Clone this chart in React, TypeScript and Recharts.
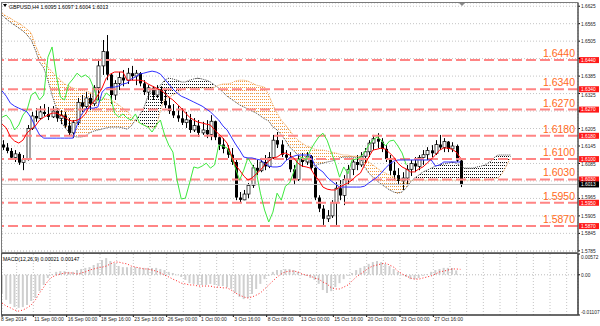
import React from "react";
import {
  Area,
  Bar,
  CartesianGrid,
  ComposedChart,
  Line,
  ReferenceLine,
  XAxis,
  YAxis,
} from "recharts";

// GBPUSD H4 candles, one slot per pair of bars
const opens = [
  1.615, 1.614, 1.6128, 1.6105, 1.6118, 1.6088, 1.6098, 1.6205, 1.6248, 1.624,
  1.6262, 1.6255, 1.6245, 1.6265, 1.624, 1.625, 1.6215, 1.619, 1.6225, 1.6295,
  1.628, 1.631, 1.629, 1.6345, 1.642, 1.647, 1.639, 1.632, 1.636, 1.638,
  1.637, 1.6395, 1.6385, 1.6395, 1.636, 1.633, 1.6345, 1.632, 1.634, 1.63,
  1.6285, 1.6265, 1.625, 1.624, 1.6225, 1.6235, 1.62, 1.6215, 1.619, 1.62,
  1.6185, 1.623, 1.6175, 1.615, 1.6135, 1.6115, 1.609, 1.5968, 1.596, 1.598,
  1.601, 1.607, 1.606, 1.609, 1.6075, 1.6105, 1.6165, 1.615, 1.6115, 1.6105,
  1.6065, 1.603, 1.61, 1.609, 1.611, 1.607, 1.5968, 1.593, 1.5895, 1.5905,
  1.595, 1.6, 1.5975, 1.603, 1.6065, 1.609, 1.608, 1.611, 1.6125, 1.6155,
  1.617, 1.616, 1.6135, 1.61, 1.606, 1.6045, 1.6025, 1.6035, 1.6065, 1.6085,
  1.6075, 1.6105, 1.6115, 1.613, 1.612, 1.615, 1.614, 1.616, 1.6135, 1.6145,
  1.6095,
];
const highs = [
  1.6165, 1.6155, 1.6138, 1.6131, 1.6124, 1.6114, 1.6217, 1.6262, 1.6275, 1.6282,
  1.6289, 1.6279, 1.6282, 1.6275, 1.6268, 1.6262, 1.6241, 1.6234, 1.631, 1.632,
  1.633, 1.6324, 1.6354, 1.644, 1.6509, 1.6526, 1.6395, 1.6371, 1.6399, 1.6406,
  1.6413, 1.642, 1.6406, 1.6399, 1.6371, 1.6354, 1.635, 1.6354, 1.635, 1.6337,
  1.631, 1.6289, 1.6282, 1.6275, 1.6262, 1.6255, 1.6241, 1.6234, 1.6228, 1.6234,
  1.6251, 1.6232, 1.6183, 1.6172, 1.6148, 1.6138, 1.6097, 1.5987, 1.5994, 1.6018,
  1.608, 1.6097, 1.6104, 1.6114, 1.6124, 1.6183, 1.6193, 1.6165, 1.6131, 1.6124,
  1.608, 1.6114, 1.6121, 1.6124, 1.6114, 1.6072, 1.5976, 1.5942, 1.5925, 1.5959,
  1.6021, 1.6028, 1.6045, 1.608, 1.6104, 1.6114, 1.6124, 1.6138, 1.6165, 1.6183,
  1.6189, 1.6172, 1.6148, 1.6114, 1.609, 1.6069, 1.6055, 1.608, 1.6097, 1.6107,
  1.6114, 1.6131, 1.6141, 1.6148, 1.6165, 1.6183, 1.6172, 1.6162, 1.6158, 1.615,
  1.6097,
];
const lows = [
  1.6131, 1.612, 1.6097, 1.609, 1.608, 1.6062, 1.6095, 1.62, 1.6228, 1.6234,
  1.6248, 1.6234, 1.6241, 1.6228, 1.622, 1.6207, 1.6179, 1.6172, 1.6217, 1.6262,
  1.6268, 1.6268, 1.6282, 1.6303, 1.6389, 1.6371, 1.6289, 1.6303, 1.6337, 1.635,
  1.6358, 1.6371, 1.6354, 1.635, 1.632, 1.6303, 1.6303, 1.631, 1.6289, 1.6275,
  1.6255, 1.6241, 1.6228, 1.6217, 1.6207, 1.619, 1.6193, 1.6176, 1.6183, 1.6172,
  1.6165, 1.6165, 1.6131, 1.612, 1.6104, 1.608, 1.5959, 1.5952, 1.5959, 1.5966,
  1.6001, 1.6045, 1.6055, 1.6062, 1.6069, 1.61, 1.6138, 1.6107, 1.6097, 1.6055,
  1.6011, 1.6025, 1.6073, 1.608, 1.6062, 1.5959, 1.5918, 1.5874, 1.5884, 1.5898,
  1.5874, 1.5959, 1.5942, 1.6011, 1.6045, 1.6062, 1.6073, 1.6086, 1.6107, 1.6131,
  1.6138, 1.6124, 1.609, 1.6045, 1.6028, 1.6011, 1.5994, 1.6011, 1.6042, 1.6055,
  1.6062, 1.608, 1.6097, 1.6107, 1.6114, 1.6131, 1.6124, 1.6124, 1.6124, 1.609,
  1.6004,
];
const closes = [
  1.614, 1.6128, 1.6105, 1.6118, 1.6088, 1.6098, 1.6205, 1.6248, 1.624, 1.6262,
  1.6255, 1.6245, 1.6265, 1.624, 1.625, 1.6215, 1.619, 1.6225, 1.6295, 1.628,
  1.631, 1.629, 1.6345, 1.642, 1.647, 1.639, 1.632, 1.636, 1.638, 1.637,
  1.6395, 1.6385, 1.6395, 1.636, 1.633, 1.6345, 1.632, 1.634, 1.63, 1.6285,
  1.6265, 1.625, 1.624, 1.6225, 1.6235, 1.62, 1.6215, 1.619, 1.62, 1.6185,
  1.623, 1.6175, 1.615, 1.6135, 1.6115, 1.609, 1.5968, 1.596, 1.598, 1.601,
  1.607, 1.606, 1.609, 1.6075, 1.6105, 1.6165, 1.615, 1.6115, 1.6105, 1.6065,
  1.603, 1.61, 1.609, 1.611, 1.607, 1.5968, 1.593, 1.5895, 1.5905, 1.595,
  1.6, 1.5975, 1.603, 1.6065, 1.609, 1.608, 1.611, 1.6125, 1.6155, 1.617,
  1.616, 1.6135, 1.61, 1.606, 1.6045, 1.6025, 1.6035, 1.6065, 1.6085, 1.6075,
  1.6105, 1.6115, 1.613, 1.612, 1.615, 1.614, 1.616, 1.6135, 1.6145, 1.6095,
  1.6013,
];

// Ichimoku
const tenkan = [
  1.622, 1.6207, 1.6176, 1.6162, 1.6155, 1.6165, 1.619, 1.6203, 1.6214, 1.6234,
  1.6244, 1.6251, 1.6258, 1.6258, 1.6251, 1.6244, 1.6234, 1.623, 1.6234, 1.6241,
  1.6255, 1.6282, 1.6296, 1.632, 1.6344, 1.6378, 1.6392, 1.6399, 1.6399, 1.6399,
  1.6371, 1.6371, 1.6371, 1.6371, 1.6368, 1.6358, 1.6351, 1.6344, 1.6337, 1.6327,
  1.6313, 1.6303, 1.6289, 1.6275, 1.6258, 1.6244, 1.6234, 1.6227, 1.6224, 1.622,
  1.6217, 1.62, 1.6186, 1.6172, 1.6155, 1.6114, 1.608, 1.6062, 1.6042, 1.6028,
  1.6035, 1.6049, 1.6062, 1.608, 1.6093, 1.6104, 1.6107, 1.6117, 1.6121, 1.6114,
  1.6104, 1.6086, 1.6076, 1.6073, 1.6069, 1.6045, 1.6028, 1.6004, 1.5997, 1.5994,
  1.5994, 1.6004, 1.6011, 1.6018, 1.6028, 1.6042, 1.6052, 1.608, 1.6107, 1.6131,
  1.6134, 1.6138, 1.6134, 1.6121, 1.6107, 1.6086, 1.6073, 1.6066, 1.6056, 1.6056,
  1.6066, 1.6073, 1.6086, 1.61, 1.6114, 1.6131, 1.6138, 1.6138, 1.6134, 1.6124,
  1.6104,
];
const kijun = [
  1.6334, 1.6316, 1.6292, 1.6282, 1.6275, 1.6269, 1.6262, 1.6241, 1.621, 1.6183,
  1.6172, 1.6172, 1.6172, 1.6172, 1.6172, 1.6172, 1.6172, 1.6172, 1.6217, 1.6251,
  1.6272, 1.6275, 1.6275, 1.6279, 1.633, 1.6344, 1.6347, 1.6347, 1.6351, 1.6358,
  1.6361, 1.6375, 1.6382, 1.6392, 1.6395, 1.6399, 1.6402, 1.6399, 1.6392, 1.6375,
  1.6358, 1.6341, 1.6327, 1.6316, 1.631, 1.6303, 1.6296, 1.6289, 1.6282, 1.6272,
  1.6262, 1.6248, 1.6234, 1.6214, 1.62, 1.6176, 1.6152, 1.6131, 1.6107, 1.6104,
  1.6104, 1.61, 1.6097, 1.6086, 1.6076, 1.6073, 1.6073, 1.6076, 1.6093, 1.6104,
  1.611, 1.6114, 1.6114, 1.6114, 1.6114, 1.608, 1.6066, 1.6056, 1.6038, 1.6025,
  1.6014, 1.6004, 1.6004, 1.6004, 1.6004, 1.6004, 1.6004, 1.6007, 1.6018, 1.6028,
  1.6038, 1.6052, 1.6069, 1.6083, 1.6093, 1.6097, 1.6097, 1.6097, 1.6097, 1.6097,
  1.6097, 1.6097, 1.6097, 1.6097, 1.6076, 1.608, 1.609, 1.609, 1.609, 1.609,
  1.609,
];
const chikou = [
  1.6244, 1.6251, 1.6234, 1.62, 1.6217, 1.6251, 1.6269, 1.632, 1.633, 1.6303,
  1.632, 1.645, 1.6485, 1.6389, 1.6313, 1.6303, 1.6358, 1.6375, 1.6395, 1.6382,
  1.6389, 1.6378, 1.6344, 1.6299, 1.6303, 1.6327, 1.6316, 1.6258, 1.6244, 1.6255,
  1.6241, 1.6234, 1.6255, 1.6224, 1.6217, 1.621, 1.6193, 1.6217, 1.6234, 1.6183,
  1.6148, 1.6124, 1.6028, 1.5963, 1.5966, 1.6018, 1.6073, 1.6069, 1.6076, 1.6086,
  1.6069, 1.608, 1.6148, 1.6145, 1.6138, 1.611, 1.6069, 1.6028, 1.6062, 1.6104,
  1.608, 1.6056, 1.5983, 1.5925, 1.5884, 1.5918, 1.5983, 1.5959, 1.6007, 1.6018,
  1.6056, 1.6097, 1.6107, 1.6097, 1.6131, 1.6155, 1.6176, 1.6189, 1.6165, 1.6124,
  1.6086, 1.6038, 1.6073, 1.6049, 1.6097, 1.61, 1.6107, 1.6124, 1.6148, 1.6165,
  1.6176, 1.6165, 1.6145, 1.6162, 1.6165, 1.6145, 1.6121, 1.608,
];
const spanA = [
  1.6601, 1.6591, 1.6584, 1.6574, 1.6567, 1.6557, 1.6546, 1.6533, 1.6491, 1.6457,
  1.6437, 1.6416, 1.6399, 1.6385, 1.6371, 1.6358, 1.6351, 1.6344, 1.6341, 1.6337,
  1.6334, 1.633, 1.6323, 1.6316, 1.631, 1.6306, 1.6303, 1.6296, 1.6286, 1.6275,
  1.6265, 1.6248, 1.6231, 1.6224, 1.6217, 1.621, 1.621, 1.621, 1.6268, 1.6306,
  1.6313, 1.632, 1.6327, 1.6337, 1.6344, 1.6344, 1.6344, 1.6344, 1.6344, 1.6344,
  1.6344, 1.6347, 1.6354, 1.6358, 1.6358, 1.6361, 1.6368, 1.6371, 1.6371, 1.6368,
  1.6361, 1.6354, 1.6351, 1.6347, 1.632, 1.6286, 1.6258, 1.6234, 1.6217, 1.62,
  1.6179, 1.6165, 1.6155, 1.6145, 1.6141, 1.6134, 1.6131, 1.6131, 1.6128, 1.6124,
  1.6121, 1.6117, 1.6114, 1.6114, 1.611, 1.611, 1.6107, 1.61, 1.609, 1.608,
  1.6069, 1.6059, 1.6052, 1.6045, 1.6038, 1.6031, 1.6025, 1.6018, 1.6025, 1.6028,
  1.6028, 1.6028, 1.6028, 1.6028, 1.6028, 1.6028, 1.6028, 1.6028, 1.6028, 1.6028,
  1.6028, 1.6028, 1.6028, 1.6028, 1.6028, 1.6028, 1.6028, 1.6031, 1.6031, 1.6035,
  1.6049, 1.6076, 1.6104,
];
const spanB = [
  1.6594, 1.6581, 1.657, 1.656, 1.655, 1.654, 1.6526, 1.6509, 1.6474, 1.6433,
  1.6413, 1.6371, 1.632, 1.6275, 1.6234, 1.621, 1.6193, 1.6179, 1.6176, 1.6176,
  1.6179, 1.619, 1.6196, 1.62, 1.6203, 1.6207, 1.621, 1.621, 1.621, 1.6207,
  1.6203, 1.6214, 1.6234, 1.6251, 1.6275, 1.6316, 1.633, 1.6337, 1.6354, 1.6371,
  1.6378, 1.6375, 1.6371, 1.6365, 1.6365, 1.6371, 1.6375, 1.6378, 1.6375, 1.6371,
  1.6365, 1.6354, 1.6344, 1.633, 1.6316, 1.6306, 1.6296, 1.6286, 1.6279, 1.6272,
  1.6265, 1.6258, 1.6248, 1.6238, 1.6231, 1.621, 1.62, 1.6183, 1.6165, 1.6141,
  1.6128, 1.6114, 1.61, 1.6093, 1.6086, 1.6076, 1.6083, 1.6086, 1.609, 1.6093,
  1.6097, 1.6104, 1.6107, 1.6107, 1.6107, 1.6104, 1.6104, 1.6073, 1.6052, 1.6038,
  1.6025, 1.6014, 1.6004, 1.5994, 1.5987, 1.5983, 1.5987, 1.6001, 1.6021, 1.6035,
  1.6045, 1.6056, 1.6062, 1.6069, 1.6076, 1.608, 1.6083, 1.6086, 1.609, 1.6086,
  1.6076, 1.6069, 1.6069, 1.6069, 1.6073, 1.6076, 1.608, 1.609, 1.6104, 1.6114,
  1.6114, 1.6114, 1.6114,
];

// MACD(12,26,9)
const macdMain = [
  -0.0053, -0.0069, -0.008, -0.0089, -0.0091, -0.0089, -0.0083, -0.0072, -0.0064, -0.0045,
  -0.0028, -0.0009, 0.0002, 0.0008, 0.001, 0.001, 0.0008, 0.0008, 0.0013, 0.0016,
  0.0019, 0.0021, 0.0027, 0.0032, 0.0041, 0.0046, 0.0038, 0.0032, 0.0024, 0.0021,
  0.0021, 0.0021, 0.0021, 0.0019, 0.0019, 0.0019, 0.0019, 0.0019, 0.0016, 0.0013,
  0.0008, 0.0005, -0.0001, -0.0006, -0.0014, -0.0023, -0.0025, -0.0028, -0.0028, -0.0028,
  -0.0025, -0.0028, -0.0031, -0.0031, -0.0034, -0.0039, -0.005, -0.0061, -0.0067, -0.0064,
  -0.0053, -0.0039, -0.0025, -0.0012, -0.0003, 0.0008, 0.0013, 0.0013, 0.0016, 0.0016,
  0.0013, 0.0008, 0.0002, -0.0003, -0.0009, -0.0014, -0.0025, -0.0042, -0.005, -0.0045,
  -0.0034, -0.0023, -0.0012, -0.0003, 0.0005, 0.0013, 0.0019, 0.0024, 0.003, 0.0035,
  0.0038, 0.0035, 0.003, 0.0024, 0.0016, 0.0008, -0.0001, -0.0006, -0.0012, -0.0012,
  -0.0009, -0.0003, 0.0002, 0.0008, 0.0013, 0.0016, 0.0019, 0.0019, 0.0019, 0.0012,
  0.0002,
];
const macdSignal = [
  -0.0078, -0.0086, -0.0091, -0.0097, -0.01, -0.0097, -0.0091, -0.0083, -0.0069, -0.005,
  -0.0034, -0.0017, -0.0006, -0.0001, 0.0002, 0.0005, 0.0005, 0.0005, 0.0002, 0.0005,
  0.0008, 0.0013, 0.0016, 0.0019, 0.0021, 0.0024, 0.003, 0.0035, 0.0035, 0.0032,
  0.003, 0.0024, 0.0021, 0.0019, 0.0016, 0.0016, 0.0013, 0.001, 0.0005, -0.0001,
  -0.0006, -0.0012, -0.0017, -0.0023, -0.0025, -0.0028, -0.0028, -0.0031, -0.0031, -0.0031,
  -0.0031, -0.0034, -0.0034, -0.0036, -0.0036, -0.0042, -0.005, -0.0056, -0.0061, -0.0064,
  -0.0061, -0.0056, -0.005, -0.0039, -0.0028, -0.0017, -0.0006, 0.0002, 0.0008, 0.001,
  0.001, 0.0008, 0.0002, -0.0001, -0.0003, -0.0009, -0.0012, -0.002, -0.0025, -0.0036,
  -0.0039, -0.0039, -0.0034, -0.0028, -0.0017, -0.0006, 0.0002, 0.001, 0.0019, 0.0024,
  0.0027, 0.003, 0.0032, 0.0027, 0.0021, 0.001, 0.0002, -0.0003, -0.0009, -0.0012,
  -0.0012, -0.0009, -0.0006, -0.0003, 0.0002, 0.0008, 0.001, 0.0013, 0.0016, 0.0016,
  0.0015,
];

const levels = [1.644, 1.634, 1.627, 1.618, 1.61, 1.603, 1.595, 1.587];
const lastPrice = 1.6013;
const priceTicks = [
  1.6625, 1.6565, 1.6505, 1.6445, 1.6385, 1.6325, 1.6265, 1.6205, 1.6145,
  1.6085, 1.6025, 1.5965, 1.5905, 1.5845, 1.5785,
];
const macdTicks = [0.00572, 0, -0.01107];
const timeLabels = [
  "8 Sep 2014", "11 Sep 00:00", "16 Sep 00:00", "18 Sep 16:00", "23 Sep 16:00",
  "26 Sep 00:00", "1 Oct 00:00", "3 Oct 16:00", "8 Oct 08:00", "13 Oct 00:00",
  "15 Oct 16:00", "20 Oct 00:00", "23 Oct 00:00", "27 Oct 16:00",
];

const X_DOMAIN: [number, number] = [0.48, 138.72];
const xTicks = [0.48, ...Array.from({ length: 34 }, (_, k) => (k + 1) * 4)];

const rows = spanA.map((a, i) => {
  const b = spanB[i];
  const hasCandle = i < closes.length;
  return {
    x: i + 0.5,
    range: hasCandle ? [lows[i], highs[i]] : null,
    open: opens[i],
    high: highs[i],
    low: lows[i],
    close: closes[i],
    tenkan: tenkan[i] ?? null,
    kijun: kijun[i] ?? null,
    chikou: chikou[i] ?? null,
    spanA: a,
    spanB: b,
    bull: a >= b - 0.0003 ? [b, a] : null,
    bear: b >= a - 0.0003 ? [a, b] : null,
    macd: macdMain[i] ?? null,
    signal: macdSignal[i] ?? null,
  };
});

function Candle(props: any) {
  const { x, y, width, height, payload } = props;
  if (!payload || !payload.range || !isFinite(y) || !isFinite(height)) return null;
  const { open, close, high, low } = payload;
  const cx = Math.round(x + width / 2) + 0.5;
  const k = high === low ? 0 : height / (high - low);
  const yo = y + (high - open) * k;
  const yc = y + (high - close) * k;
  const up = close >= open;
  return (
    <g>
      <line x1={cx} x2={cx} y1={y} y2={y + height} stroke="#000" strokeWidth={1} />
      <rect
        x={cx - 1.5}
        y={Math.min(yo, yc)}
        width={3}
        height={Math.max(Math.abs(yc - yo), 1)}
        fill={up ? "#fff" : "#000"}
        stroke="#000"
        strokeWidth={up ? 0.7 : 0}
      />
    </g>
  );
}

const levelLabel = (lv: number) => (props: any) => {
  const { x = 0, y = 0, width = 0 } = props.viewBox || {};
  const txt = lv.toFixed(4);
  return (
    <g>
      <text x={x + width - 3} y={y - 3} textAnchor="end" fontSize={10.5} fill="#ff6a22">
        {txt}
      </text>
      <rect x={x + width + 1} y={y - 3} width={20} height={6} fill="#ff1a1a" />
      <text x={x + width + 3} y={y + 1.8} fontSize={4.8} fill="#fff">
        {txt}
      </text>
    </g>
  );
};

const lastLabel = (props: any) => {
  const { x = 0, y = 0, width = 0 } = props.viewBox || {};
  return (
    <g>
      <rect x={x + width + 1} y={y - 3} width={20} height={6} fill="#000" />
      <text x={x + width + 3} y={y + 1.8} fontSize={4.8} fill="#fff">
        {lastPrice.toFixed(4)}
      </text>
    </g>
  );
};

function PriceTick(props: any) {
  const { x, y, payload } = props;
  const v = payload.value;
  if (levels.some((l) => Math.abs(l - v) < 0.0008)) return <g />;
  const near = levels.find((l) => Math.abs(l - v) < 0.0017);
  const dy = near === undefined ? 2 : near > v ? 3 : 1;
  return (
    <text x={x} y={y + dy} fontSize={4.8} fill="#222">
      {v.toFixed(4)}
    </text>
  );
}

function MacdTick(props: any) {
  const { x, y, payload } = props;
  const v = payload.value;
  const dy = v > 0 ? 4.5 : v < 0 ? -1.5 : 2;
  return (
    <text x={x} y={y + dy} fontSize={4.8} fill="#222">
      {v === 0 ? "0.00" : v.toFixed(5)}
    </text>
  );
}

function TimeTick(props: any) {
  const { x, y, payload } = props;
  const v = payload.value;
  const idx = v < 1 ? 0 : v % 8 === 0 ? v / 8 : -1;
  const label = timeLabels[idx];
  if (!label) return <g />;
  return (
    <g>
      <line x1={x} x2={x} y1={y - 3} y2={y - 1} stroke="#000" />
      <text x={v < 1 ? x - 1 : x + 1} y={y + 3} fontSize={5} fill="#222">
        {label}
      </text>
    </g>
  );
}

export default function App() {
  return (
    <div
      style={{
        position: "relative",
        width: 600,
        height: 326,
        background: "#fff",
        fontFamily: "'Liberation Sans', Arial, sans-serif",
      }}
    >
      <style>{"body{margin:0}"}</style>
      <ComposedChart
        width={600}
        height={254}
        data={rows}
        margin={{ top: 3, right: 0, bottom: 2, left: 2 }}
        style={{ position: "absolute", left: 0, top: 0 }}
      >
        <defs>
          <pattern id="dotsOrange" width="2" height="3" patternUnits="userSpaceOnUse">
            <rect x="0" y="0" width="1" height="1" fill="#f29a3c" />
          </pattern>
          <pattern id="dotsBlack" width="2" height="3" patternUnits="userSpaceOnUse">
            <rect x="0" y="0" width="1" height="1" fill="#111" />
          </pattern>
        </defs>
        <CartesianGrid stroke="#c4c4c4" strokeDasharray="1 2" />
        <XAxis
          type="number"
          dataKey="x"
          domain={X_DOMAIN}
          ticks={xTicks}
          interval={0}
          allowDataOverflow
          tick={false}
          tickLine={false}
          axisLine={false}
          height={0}
        />
        <YAxis
          orientation="right"
          width={22}
          domain={[1.5781, 1.6636]}
          ticks={priceTicks}
          interval={0}
          allowDataOverflow
          tick={<PriceTick />}
          tickSize={2}
          tickMargin={1}
          tickLine={{ stroke: "#000" }}
          axisLine={{ stroke: "#000" }}
        />
        <Area dataKey="bull" type="linear" stroke="none" fill="url(#dotsOrange)" fillOpacity={1} isAnimationActive={false} />
        <Area dataKey="bear" type="linear" stroke="none" fill="url(#dotsBlack)" fillOpacity={1} isAnimationActive={false} />
        <Line dataKey="spanA" type="linear" stroke="#f0a050" strokeDasharray="1 1" dot={false} isAnimationActive={false} />
        <Line dataKey="spanB" type="linear" stroke="#444" strokeDasharray="1 1" dot={false} isAnimationActive={false} />
        {levels.map((lv) => (
          <ReferenceLine
            key={lv}
            y={lv}
            stroke="#ff8585"
            strokeWidth={2}
            strokeDasharray="10 4"
            label={levelLabel(lv)}
          />
        ))}
        <ReferenceLine y={lastPrice} stroke="#c0c0c0" strokeWidth={1} label={lastLabel} />
        <Bar dataKey="range" barSize={3} shape={<Candle />} isAnimationActive={false} />
        <Line dataKey="chikou" type="linear" stroke="#3ee83e" strokeWidth={1} dot={false} isAnimationActive={false} />
        <Line dataKey="kijun" type="linear" stroke="#3030ff" strokeWidth={1} dot={false} isAnimationActive={false} />
        <Line dataKey="tenkan" type="linear" stroke="#ff0000" strokeWidth={1} dot={false} isAnimationActive={false} />
      </ComposedChart>

      <ComposedChart
        width={600}
        height={74}
        data={rows}
        margin={{ top: 2, right: 0, bottom: 0, left: 2 }}
        style={{ position: "absolute", left: 0, top: 252 }}
      >
        <CartesianGrid stroke="#c4c4c4" strokeDasharray="1 2" horizontal={false} />
        <XAxis
          type="number"
          dataKey="x"
          domain={X_DOMAIN}
          ticks={xTicks}
          interval={0}
          allowDataOverflow
          tick={<TimeTick />}
          tickLine={false}
          tickSize={2}
          tickMargin={1}
          axisLine={{ stroke: "#000" }}
          height={11}
        />
        <YAxis
          orientation="right"
          width={22}
          domain={[-0.01107, 0.00572]}
          ticks={macdTicks}
          interval={0}
          allowDataOverflow
          tick={<MacdTick />}
          tickSize={2}
          tickMargin={1}
          tickLine={{ stroke: "#000" }}
          axisLine={{ stroke: "#000" }}
        />
        <ReferenceLine y={0} stroke="#bdbdbd" strokeDasharray="1 2" />
        <Bar dataKey="macd" barSize={2} fill="#cfcfcf" isAnimationActive={false} />
        <Line dataKey="signal" type="linear" stroke="#ff2020" strokeDasharray="1 2" dot={false} isAnimationActive={false} />
      </ComposedChart>

      <svg
        width={600}
        height={326}
        style={{ position: "absolute", left: 0, top: 0, pointerEvents: "none" }}
      >
        <rect x={1.5} y={2.5} width={576.5} height={250} fill="none" stroke="#7a7a7a" />
        <rect x={1.5} y={253.5} width={576.5} height={61.5} fill="none" stroke="#555" />
        <polygon points="3,4 7,4 5,7" fill="#000" />
        <text x={9} y={8.5} fontSize={5.2} fill="#000">
          GBPUSD,H4 1.6095 1.6097 1.6004 1.6013
        </text>
        <polygon points="459,3 465,3 462,6" fill="#888" />
        <text x={3} y={260.5} fontSize={5.2} fill="#000">
          MACD(12,26,9) 0.00021 0.00147
        </text>
      </svg>
    </div>
  );
}
